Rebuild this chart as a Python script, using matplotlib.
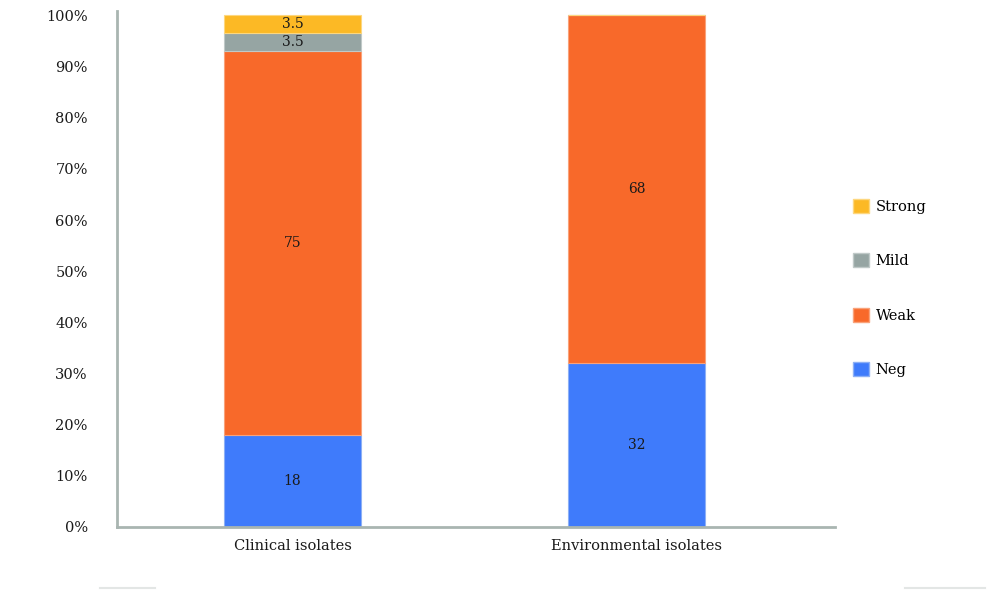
import numpy as np
import matplotlib.pyplot as plt
from matplotlib.patches import Patch
from matplotlib.lines import Line2D

# data
categories = ['Clinical isolates', 'Environmental isolates']
series = ['Neg', 'Weak', 'Mild', 'Strong']
neg = [18, 32]
weak = [75, 68]
mild = [3.5, 0]
strong = [3.5, 0]
yticks = [0, 10, 20, 30, 40, 50, 60, 70, 80, 90, 100]

colors = {'Neg': '#3f7bfb', 'Weak': '#f8692a', 'Mild': '#96a5a3', 'Strong': '#fcb925'}
edges = {'Neg': '#8db0f5', 'Weak': '#f9a27a', 'Mild': '#c0c9c8', 'Strong': '#fdd77f'}

plt.rcParams['font.family'] = ['DejaVu Serif']

fig = plt.figure(figsize=(10, 5.9), dpi=100)
ax = fig.add_axes([0.117, 0.1068, 0.718, 0.874])

x = np.arange(len(categories))
values = {'Neg': neg, 'Weak': weak, 'Mild': mild, 'Strong': strong}
bottom = np.zeros(len(categories))
for s in series:
    v = np.array(values[s], dtype=float)
    ax.bar(x, v, width=0.398, bottom=bottom, color=colors[s],
           edgecolor=edges[s], linewidth=0.8, zorder=2)
    for xi, b, val in zip(x, bottom, v):
        if val > 0:
            txt = ('%g' % val)
            ax.text(xi, b + val / 2, txt, ha='center', va='center',
                    fontsize=10, color='#1a1a1a', zorder=3)
    bottom += v

ax.set_xlim(-0.51, 1.577)
ax.set_ylim(0, 100.8)
ax.set_yticks(yticks)
ax.set_yticklabels(['%d%%' % t for t in yticks])
ax.set_xticks(x)
ax.set_xticklabels(categories)
ax.tick_params(axis='y', length=0, pad=21, labelsize=10.5, labelcolor='#1a1a1a')
ax.tick_params(axis='x', length=0, pad=9, labelsize=10.5, labelcolor='#1a1a1a')

for side in ['top', 'right']:
    ax.spines[side].set_visible(False)
for side in ['left', 'bottom']:
    ax.spines[side].set_color('#a9b5b1')
    ax.spines[side].set_linewidth(2)

handles = [Patch(facecolor=colors[s], edgecolor=edges[s], label=s) for s in reversed(series)]
fig.legend(handles=handles, loc='upper left', bbox_to_anchor=(0.84, 0.685),
           frameon=False, fontsize=10.5, handlelength=1.1, handleheight=1.1,
           handletextpad=0.45, labelspacing=2.7)

# faint marks along the bottom edge
fig.add_artist(Line2D([0.1, 0.155], [0.004, 0.004], color='#e3e6e5', lw=1.5))
fig.add_artist(Line2D([0.905, 0.985], [0.004, 0.004], color='#e3e6e5', lw=1.5))

fig.savefig('out.png', dpi=100)
